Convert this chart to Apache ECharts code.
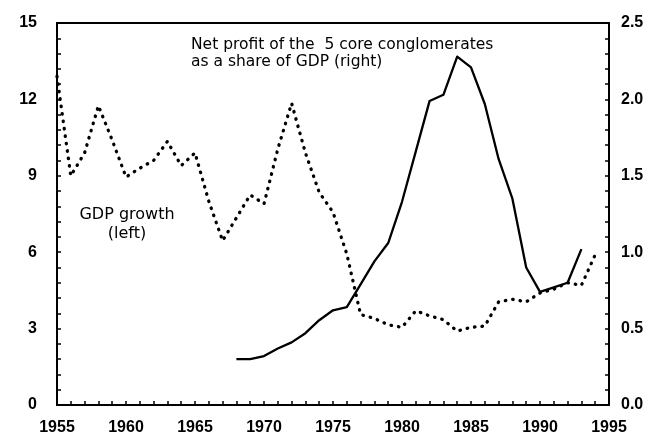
<!DOCTYPE html>
<html>
<head>
<meta charset="utf-8">
<script src="https://cdn.jsdelivr.net/npm/echarts@6/dist/echarts.min.js"></script>
<style>
html,body{margin:0;padding:0;background:#fff;}
#chart{width:661px;height:439px;}
</style>
</head>
<body>
<div id="chart"></div>
<script>
// Years and values
var gdpYears = [1955,1956,1957,1958,1959,1960,1961,1962,1963,1964,
                1965,1966,1967,1968,1969,1970,1971,1972,1973,1974,
                1975,1976,1977,1978,1979,1980,1981,1982,1983,1984,
                1985,1986,1987,1988,1989,1990,1991,1992,1993,1994];
var gdpGrowth = [12.9,9.0,9.9,11.75,10.4,8.95,9.3,9.6,10.35,9.4,
                 9.9,8.0,6.45,7.35,8.25,7.9,10.05,11.85,9.9,8.35,
                 7.57,5.93,3.55,3.4,3.15,3.05,3.7,3.5,3.35,2.9,
                 3.05,3.1,4.05,4.15,4.05,4.4,4.55,4.8,4.7,5.9];

var profitYears = [1968,1969,1970,1971,1972,1973,1974,1975,1976,1977,
                   1978,1979,1980,1981,1982,1983,1984,1985,1986,1987,
                   1988,1989,1990,1991,1992,1993];
var profitShare = [0.30,0.30,0.32,0.37,0.41,0.47,0.555,0.62,0.64,0.79,
                   0.94,1.06,1.33,1.66,1.99,2.03,2.28,2.21,1.97,1.61,
                   1.35,0.90,0.74,0.77,0.80,1.02];

var xTicks = [1955,1960,1965,1970,1975,1980,1985,1990,1995];
var leftTicks = [0,3,6,9,12,15];
var rightTicks = [0.0,0.5,1.0,1.5,2.0,2.5];

var annotTop = 'Net profit of the  5 core conglomerates\nas a share of GDP (right)';
var annotLeft = 'GDP growth\n(left)';

function pairs(xs, ys){ return xs.map(function(x,i){ return [x, ys[i]]; }); }

var labelStyle = {color:'#000', fontFamily:'"Liberation Sans", Arial, sans-serif', fontWeight:'bold', fontSize:16};
var chart = echarts.init(document.getElementById('chart'), null, {renderer:'canvas'});
chart.setOption({
  animation:false,
  backgroundColor:'#fff',
  grid:{left:57, right:52, top:23, bottom:34, show:true, borderColor:'#000', borderWidth:2, backgroundColor:'transparent'},
  xAxis:{
    type:'value', min:xTicks[0], max:xTicks[xTicks.length-1], interval:5,
    axisLine:{show:true, lineStyle:{color:'#000', width:2}},
    axisTick:{show:true, inside:true, length:4, lineStyle:{color:'#000', width:1.5}},
    minorTick:{show:true, splitNumber:5, length:4, lineStyle:{color:'#000', width:1.5}},
    splitLine:{show:false},
    axisLabel:Object.assign({margin:15, formatter:function(v){return String(v);}}, labelStyle)
  },
  yAxis:[{
    type:'value', min:leftTicks[0], max:leftTicks[leftTicks.length-1], interval:3,
    axisLine:{show:true, lineStyle:{color:'#000', width:2}},
    axisTick:{show:true, inside:true, length:4, lineStyle:{color:'#000', width:1.5}},
    minorTick:{show:true, splitNumber:5, length:4, lineStyle:{color:'#000', width:1.5}},
    splitLine:{show:false},
    axisLabel:Object.assign({margin:20, formatter:function(v){return String(v);}}, labelStyle)
  },{
    type:'value', position:'right', min:rightTicks[0], max:rightTicks[rightTicks.length-1], interval:0.5,
    axisLine:{show:true, lineStyle:{color:'#000', width:2}},
    axisTick:{show:true, inside:true, length:4, lineStyle:{color:'#000', width:1.5}},
    minorTick:{show:true, splitNumber:5, length:4, lineStyle:{color:'#000', width:1.5}},
    splitLine:{show:false},
    axisLabel:Object.assign({margin:12, formatter:function(v){return v.toFixed(1);}}, labelStyle)
  }],
  series:[{
    name:'GDP growth', type:'line', yAxisIndex:0, data:pairs(gdpYears, gdpGrowth),
    symbol:'none', smooth:false,
    lineStyle:{color:'#000', width:3.3, type:[0.5,7], cap:'round', join:'round'}
  },{
    name:'Net profit', type:'line', yAxisIndex:1, data:pairs(profitYears, profitShare),
    symbol:'none', smooth:false,
    lineStyle:{color:'#000', width:2.3, type:'solid', join:'round'}
  }],
  graphic:[{
    type:'text', left:191, top:36,
    style:{text:annotTop, fill:'#000', font:'15.5px "DejaVu Sans", sans-serif', lineHeight:17}
  },{
    type:'text', x:127, y:205,
    style:{text:annotLeft, fill:'#000', font:'16px "DejaVu Sans", sans-serif', textAlign:'center', lineHeight:19}
  }]
});
</script>
</body>
</html>
